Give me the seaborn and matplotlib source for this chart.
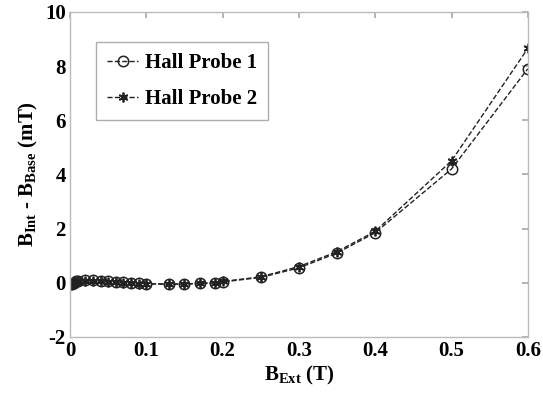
import matplotlib
matplotlib.use("Agg")
import matplotlib.pyplot as plt
import seaborn as sns
import pandas as pd

sns.set_theme(style="white")
plt.rcParams['font.family'] = ['Liberation Serif', 'DejaVu Serif']
plt.rcParams['mathtext.fontset'] = 'custom'
plt.rcParams['mathtext.rm'] = 'Liberation Serif:bold'
plt.rcParams['mathtext.bf'] = 'Liberation Serif:bold'
plt.rcParams['axes.unicode_minus'] = False

b_ext = [0.001, 0.002, 0.005, 0.008, 0.01, 0.02, 0.03, 0.04, 0.05, 0.06, 0.07,
         0.08, 0.09, 0.1, 0.13, 0.15, 0.17, 0.19, 0.2, 0.25, 0.3, 0.35, 0.4,
         0.5, 0.6]
probe1 = [-0.05, -0.03, 0.0, 0.05, 0.08, 0.12, 0.12, 0.08, 0.05, 0.03, 0.02,
          0.0, -0.02, -0.03, -0.05, -0.05, -0.02, 0.0, 0.03, 0.2, 0.55, 1.1,
          1.85, 4.2, 7.9]
probe2 = [-0.05, -0.03, 0.0, 0.03, 0.05, 0.08, 0.08, 0.05, 0.03, 0.02, 0.0,
          -0.02, -0.03, -0.04, -0.05, -0.04, -0.02, 0.0, 0.05, 0.22, 0.6, 1.15,
          1.9, 4.5, 8.65]

df = pd.DataFrame({"b_ext": b_ext, "Hall Probe 1": probe1, "Hall Probe 2": probe2})

fig, ax = plt.subplots(figsize=(5.43, 3.96), dpi=100)
fig.subplots_adjust(left=0.129, right=0.972, top=0.97, bottom=0.149)

sns.lineplot(data=df, x="b_ext", y="Hall Probe 1", ax=ax, color="#222222",
             linestyle="--", linewidth=1, marker="o", markersize=7.5,
             markerfacecolor="none", markeredgecolor="#222222",
             markeredgewidth=1.1, label="Hall Probe 1")
sns.lineplot(data=df, x="b_ext", y="Hall Probe 2", ax=ax, color="#222222",
             linestyle="--", linewidth=1, marker=(6, 2, 0), markersize=7,
             markeredgecolor="#222222", markeredgewidth=1.3,
             label="Hall Probe 2")

ax.set_xlim(0, 0.6)
ax.set_ylim(-2, 10)
ax.set_xticks([0, 0.1, 0.2, 0.3, 0.4, 0.5, 0.6])
ax.set_xticklabels(["0", "0.1", "0.2", "0.3", "0.4", "0.5", "0.6"])
ax.set_yticks([-2, 0, 2, 4, 6, 8, 10])
ax.tick_params(direction="in", length=4, color="#aaaaaa", labelsize=15,
               labelcolor="black", top=True, right=True, pad=3)
for lbl in ax.get_xticklabels() + ax.get_yticklabels():
    lbl.set_fontweight("bold")
for s in ax.spines.values():
    s.set_color("#bbbbbb")
    s.set_linewidth(1)

ax.set_xlabel(r"$\mathbf{B_{Ext}}$ (T)", fontsize=15, fontweight="bold",
              labelpad=2, color="black")
ax.set_ylabel(r"$\mathbf{B_{Int}}$ - $\mathbf{B_{Base}}$ (mT)", fontsize=15,
              fontweight="bold", labelpad=4, color="black")

leg = ax.legend(loc="upper left", bbox_to_anchor=(0.033, 0.94), frameon=True,
                fancybox=False, prop={"weight": "bold", "size": 15},
                handlelength=1.5, handletextpad=0.3, borderpad=0.55,
                labelspacing=0.75)
leg.get_frame().set_edgecolor("#999999")
leg.get_frame().set_linewidth(1)
for t in leg.get_texts():
    t.set_color("black")

fig.savefig("out.png", dpi=100)
